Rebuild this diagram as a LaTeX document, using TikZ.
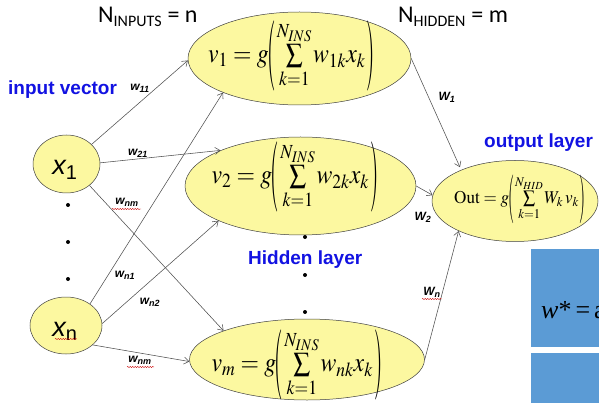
\documentclass[tikz,border=0pt]{standalone}
\usepackage{mathptmx}
\usepackage[no-math]{fontspec}
\setmainfont{Liberation Serif}
\newfontfamily\calibri{Carlito}
\newfontfamily\arial{Liberation Sans}
\usetikzlibrary{arrows.meta,decorations.pathmorphing,shapes.geometric}
\definecolor{nfill}{RGB}{252,248,160}
\definecolor{labblue}{RGB}{18,18,226}
\definecolor{boxblue}{RGB}{91,155,213}
\definecolor{lnk}{RGB}{80,80,80}
\newcommand{\tpar}[2]{\vcenter{\hbox{\scalebox{0.9}[#1]{$#2$}}}}
\newcommand{\hform}[2]{\scalebox{0.88}[1]{$#1 = g\mkern-1mu\tpar{2.6}{(}\mkern-1mu\sum\limits_{k=1}^{N_{INS}}\mkern-1mu #2 x_k\mkern1mu\tpar{2.6}{)}$}}
\begin{document}
\begin{tikzpicture}[x=1pt,y=-1pt,
  neuron/.style={ellipse, draw=black!75, fill=nfill, line width=0.5pt, inner sep=0pt},
  conn/.style={draw=lnk, line width=0.55pt, -{Straight Barb[length=5pt,width=7pt]}},
  wlab/.style={font=\arial\bfseries\itshape\fontsize{12}{12}\selectfont, inner sep=0pt},
  blab/.style={font=\arial\bfseries\fontsize{19}{19}\selectfont, text=labblue, inner sep=0pt, anchor=base west},
  toplab/.style={font=\calibri\fontsize{24}{24}\selectfont, inner sep=0pt, anchor=base west},
  hform/.style={font=\fontsize{27}{30}\selectfont, inner sep=0pt},
  xlab/.style={font=\arial\fontsize{27}{27}\selectfont, inner sep=0pt},
  dot/.style={circle, fill=black, inner sep=0pt, minimum size=4pt},
  squig/.style={draw=red!80!black, line width=0.4pt, decorate, decoration={snake, segment length=2.5pt, amplitude=0.6pt}},
  bbox/.style={fill=boxblue, draw=none}]
\clip (0,0) rectangle (599,403);
\fill[white] (0,0) rectangle (599,403);

% blue boxes at right
\path[bbox] (531,249) rectangle (610,347);
\path[bbox] (531,353) rectangle (610,410);
\node[font=\fontsize{26}{28}\selectfont, anchor=base west, inner sep=0pt] (wstar) at (541,318) {\itshape w\upshape*\hspace{4pt}=\hspace{4pt}a};

% input neurons
\node[neuron, minimum width=67pt, minimum height=58pt] (x1) at (66.5,164) {};
\node[neuron, minimum width=72pt, minimum height=57pt] (xn) at (66,325.5) {};
\node[xlab] (x1t) at (65,170) {\itshape x\textsubscript{\upshape 1}};
\node[xlab] (xnt) at (65,331) {\itshape x\textsubscript{\upshape n}};

% hidden neurons
\node[neuron, minimum width=223pt, minimum height=93pt] (v1) at (299.5,58.5) {};
\node[neuron, minimum width=231pt, minimum height=98pt] (v2) at (300.5,186) {};
\node[neuron, minimum width=235pt, minimum height=81pt] (vm) at (307,359.5) {};
\node[hform] (f1) at (291.5,56) {\hform{v_1}{w_{1k}}};
\node[hform] (f2) at (295,177) {\hform{v_2}{w_{2k}}};
\node[hform] (fm) at (297,365) {\hform{v_m}{w_{nk}}};

% output neuron
\node[neuron, minimum width=166pt, minimum height=81pt] (out) at (515,201) {};
\node[font=\fontsize{18}{20}\selectfont, inner sep=0pt] (fo) at (520,199) {\scalebox{0.95}[1]{$\mathrm{Out} = g\mkern-1mu\tpar{2.7}{(}\mkern-1mu\sum\limits_{k=1}^{N_{HID}}\mkern-1mu W_k\, v_k\mkern1mu\tpar{2.7}{)}$}};

% connectors input -> hidden
\draw[conn] (x1.38) -- (v1.181);
\draw[conn] (xn.42) -- (v1.204);
\draw[conn] (x1.2) -- (v2.156);
\draw[conn] (xn.3) -- (v2.203);
\draw[conn] (x1.-43) -- (vm.161);
\draw[conn] (xn.-36) -- (vm.181);
% hidden -> output
\draw[conn, shorten >=3pt] (v1.east) -- (out.150);
\draw[conn] (v2.east) -- (out.176);
\draw[conn] (vm.east) -- (out.208);

% weight labels
\node[wlab] (w11) at (140,88) {w\textsubscript{11}};
\node[wlab] (w21) at (138,153) {w\textsubscript{21}};
\node[wlab] (wnma) at (127,202) {w\textsubscript{nm}};
\node[wlab] (wn1) at (125,275) {w\textsubscript{n1}};
\node[wlab] (wn2) at (150,302) {w\textsubscript{n2}};
\node[wlab] (wnmb) at (140,360) {w\textsubscript{nm}};
\node[wlab] (W1) at (447,97) {W\textsubscript{1}};
\node[wlab] (W2) at (423,217) {W\textsubscript{2}};
\node[wlab] (Wn) at (432,292) {W\textsubscript{n}};

% spell-check squiggles
\draw[squig] (112,209) -- (141,209);
\draw[squig] (127,367) -- (154,367);
\draw[squig] (55,339) -- (77,339);
\draw[squig] (422,299) -- (442,299);

% dots
\node[dot] (d1) at (68,205) {};
\node[dot] (d2) at (68,242) {};
\node[dot] (d3) at (68,279) {};
\node[dot] (d4) at (305,237) {};
\node[dot] (d5) at (305,275) {};
\node[dot] (d6) at (305,312) {};

% titles
\node[toplab] (nin) at (98,23) {N\textsubscript{\fontsize{16}{16}\selectfont INPUTS} = n};
\node[toplab] (nhid) at (398,23) {N\textsubscript{\fontsize{16}{16}\selectfont HIDDEN} = m};
\node[blab] (inv) at (8,95) {input vector};
\node[blab] (hid) at (248,265) {Hidden layer};
\node[blab] (outl) at (484,148) {output layer};
\end{tikzpicture}
\end{document}
